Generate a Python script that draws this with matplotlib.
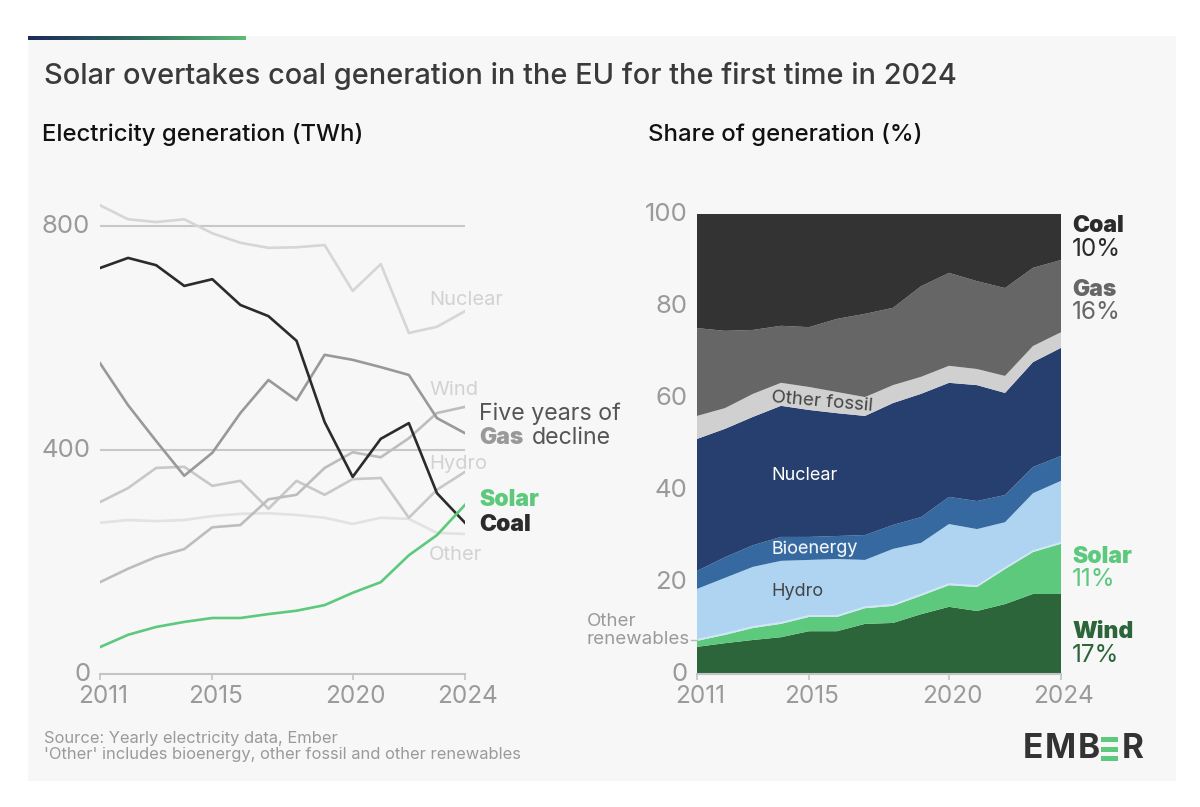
import matplotlib
matplotlib.use("Agg")
import matplotlib.pyplot as plt
import numpy as np
from matplotlib.colors import LinearSegmentedColormap
from matplotlib.patches import Rectangle
from matplotlib.transforms import ScaledTranslation

plt.rcParams["font.family"] = ["Inter", "DejaVu Sans"]

W, H = 1200, 807

years = np.arange(2011, 2025)
year_ticks = [2011, 2015, 2020, 2024]

# Left panel, TWh
nuclear_twh = [837, 812, 807, 812, 787, 770, 761, 762, 766, 684, 732, 609, 620, 648]
coal_twh = [725, 743, 730, 693, 705, 659, 639, 595, 450, 352, 420, 448, 323, 270]
gas_twh = [555, 480, 416, 354, 395, 466, 525, 489, 570, 561, 548, 534, 457, 430]
wind_twh = [164, 188, 209, 223, 262, 266, 312, 320, 368, 396, 387, 421, 466, 477]
hydro_twh = [307, 332, 368, 370, 336, 345, 295, 345, 320, 348, 350, 279, 329, 361]
other_twh = [270, 275, 273, 275, 282, 286, 287, 284, 279, 268, 279, 277, 252, 250]
solar_twh = [48, 70, 84, 93, 100, 100, 107, 113, 123, 145, 164, 212, 248, 302]

# Right panel, share %
wind_pct = [5.9, 6.7, 7.4, 8.0, 9.3, 9.3, 10.9, 11.1, 13.0, 14.6, 13.7, 15.2, 17.4, 17.4]
solar_pct = [1.3, 1.8, 2.6, 2.9, 3.1, 3.1, 3.4, 3.7, 4.0, 4.7, 5.2, 7.6, 9.1, 10.9]
other_ren_pct = [0.4] * 14
hydro_pct = [10.9, 12.0, 12.9, 13.3, 12.0, 12.2, 10.1, 12.0, 11.1, 12.9, 12.2, 9.8, 12.4, 13.3]
bio_pct = [3.9, 4.5, 4.7, 5.2, 5.0, 5.0, 5.4, 5.2, 5.6, 5.9, 6.1, 5.9, 5.7, 5.4]
nuclear_pct = [28.7, 27.9, 27.9, 28.5, 27.6, 26.7, 25.9, 26.5, 26.8, 24.8, 25.2, 22.2, 22.8, 23.5]
other_fossil_pct = [5.0, 4.5, 5.0, 5.0, 5.0, 4.6, 4.1, 3.9, 3.7, 3.7, 3.5, 3.7, 3.5, 3.4]
gas_pct = [19.1, 16.8, 13.9, 12.4, 13.0, 15.9, 18.1, 16.8, 19.7, 20.2, 19.1, 19.1, 17.0, 15.7]
coal_pct = [24.8, 25.4, 25.2, 24.3, 24.6, 22.8, 21.7, 20.4, 15.7, 12.8, 14.6, 16.1, 11.7, 10.0]

GREY = "#9a9a9a"
DARK = "#333333"
GREEN = "#5cc97c"
DGREEN = "#2c6539"
GAS = "#666666"

fig = plt.figure(figsize=(W / 100, H / 100), dpi=100, facecolor="white")

# background layer in pixel coordinates
bg = fig.add_axes([0, 0, 1, 1])
bg.axis("off")
bg.add_patch(Rectangle((28, 36), 1148, 745, color="#f7f7f7", lw=0, zorder=1))
cmap = LinearSegmentedColormap.from_list("bar", ["#1c2a5c", "#2f6a5e", "#5dbb78"])
bg.imshow(np.linspace(0, 1, 256)[None, :], cmap=cmap, extent=(28, 246, 40, 36),
          aspect="auto", zorder=2)
bg.set_xlim(0, W)
bg.set_ylim(H, 0)


def px_axes(left, right, y0, y_top):
    return fig.add_axes([left / W, (H - y0) / H, (right - left) / W, (y0 - y_top) / H])


def style_axis(ax, y_ticks, y_max):
    ax.patch.set_alpha(0)
    for s in ["top", "right", "left"]:
        ax.spines[s].set_visible(False)
    ax.spines["bottom"].set_color("#c4c4c4")
    ax.spines["bottom"].set_linewidth(1.5)
    ax.set_xlim(2011, 2024)
    ax.set_ylim(0, y_max)
    ax.set_xticks(year_ticks)
    ax.set_yticks(y_ticks)
    ax.tick_params(axis="x", length=4, width=1.2, color="#c4c4c4", labelcolor=GREY,
                   labelsize=17.5, pad=2.5)
    ax.tick_params(axis="y", length=0, labelcolor=GREY, labelsize=18.5, pad=7)
    # year labels sit right of and below their ticks, y labels a bit above the lines
    x_shift = ScaledTranslation(3 / 100, -2 / 100, fig.dpi_scale_trans)
    y_shift = ScaledTranslation(0, 2 / 100, fig.dpi_scale_trans)
    for t in ax.get_xticklabels():
        t.set_transform(t.get_transform() + x_shift)
    for t in ax.get_yticklabels():
        t.set_transform(t.get_transform() + y_shift)


# Left panel
ax1 = px_axes(100, 465, 674, 198)
style_axis(ax1, [0, 400, 800], 850)
for v in [400, 800]:
    ax1.axhline(v, color="#c8c8c8", lw=1.5, zorder=1)
ax1.plot(years, other_twh, color="#e2e2e2", lw=1.9, zorder=2)
ax1.plot(years, nuclear_twh, color="#d6d6d6", lw=1.9, zorder=2)
ax1.plot(years, hydro_twh, color="#c8c8c8", lw=1.9, zorder=2)
ax1.plot(years, wind_twh, color="#bdbdbd", lw=1.9, zorder=2)
ax1.plot(years, gas_twh, color="#999999", lw=1.9, zorder=3)
ax1.plot(years, coal_twh, color="#2b2b2b", lw=1.9, zorder=4)
ax1.plot(years, solar_twh, color=GREEN, lw=1.9, zorder=5)

# Right panel
ax2 = px_axes(697, 1061, 674, 214)
style_axis(ax2, [0, 20, 40, 60, 80, 100], 100)
ax2.stackplot(
    years,
    wind_pct, solar_pct, other_ren_pct, hydro_pct, bio_pct,
    nuclear_pct, other_fossil_pct, gas_pct, coal_pct,
    colors=[DGREEN, GREEN, "#cfe6f5", "#aed4f1", "#35699f", "#263f6e", "#d0d0d0", GAS, "#333333"],
    lw=0,
)
ax2.plot([2010.8, 2011], [7.5, 7.5], color="#bbbbbb", lw=1, clip_on=False)


def label(x, y, s, color=DARK, size=15, weight="normal", **kw):
    kw.setdefault("va", "center")
    kw.setdefault("ha", "left")
    return fig.text(x / W, 1 - y / H, s, color=color, fontsize=size, fontweight=weight, **kw)


label(44, 76, "Solar overtakes coal generation in the EU for the first time in 2024",
      color="#3a3a3a", size=20.8, weight="medium")
label(42, 135, "Electricity generation (TWh)", color="#111111", size=17.2, weight="medium")
label(648, 135, "Share of generation (%)", color="#111111", size=17.2, weight="medium")

# line labels
for x, y, s in [(429, 300, "Nuclear"), (429, 390, "Wind"), (429, 464, "Hydro"), (429, 555, "Other")]:
    label(x, y, s, color="#d2d2d2", size=14.5)
label(479, 414, "Five years of", color="#555555", size=16.7)
label(479, 438, "Gas", color="#999999", size=16.5, weight="black")
label(532, 438, "decline", color="#555555", size=16.7)
label(479, 500, "Solar", color=GREEN, size=16.5, weight="black")
label(479, 525, "Coal", color="#2b2b2b", size=16.5, weight="black")

# area labels
label(771, 475, "Nuclear", color="white", size=13)
label(771, 549, "Bioenergy", color="white", size=13, rotation=1)
label(771, 592, "Hydro", color="#444444", size=13)
label(771, 402, "Other fossil", color="#444444", size=13.5, rotation=-5)
label(587, 621, "Other", color=GREY, size=13.5)
label(587, 640, "renewables", color=GREY, size=13.5)

# right side labels
for y, name, pct, col in [(226, "Coal", "10%", "#2b2b2b"), (290, "Gas", "16%", GAS),
                          (557, "Solar", "11%", GREEN), (632, "Wind", "17%", DGREEN)]:
    label(1072, y, name, color=col, size=16.5, weight="black")
    label(1072, y + 23, pct, color=col, size=17.5)

# footer
label(44, 738, "Source: Yearly electricity data, Ember", color=GREY, size=11.9)
label(44, 755, "'Other' includes bioenergy, other fossil and other renewables", color=GREY, size=11.9)

# logo
for x, s in [(1023, "E"), (1045, "M"), (1078, "B"), (1122, "R")]:
    label(x, 749, s, color=DARK, size=24, weight="bold")
for y0 in [737, 747, 756]:
    bg.add_patch(Rectangle((1101, y0), 17, 5, color=GREEN, lw=0, zorder=2))

fig.savefig("out.png", dpi=100, facecolor="white")
